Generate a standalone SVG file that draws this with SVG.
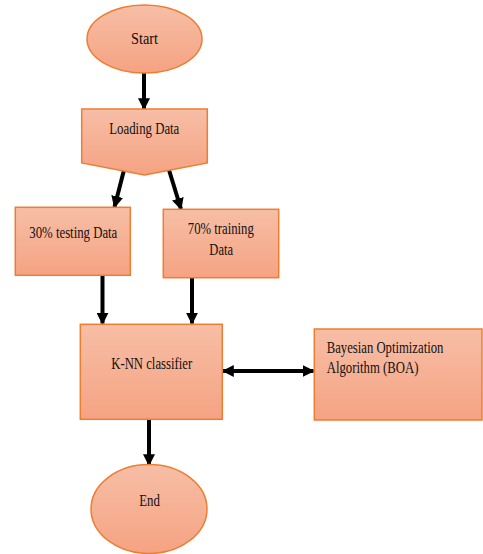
<svg xmlns="http://www.w3.org/2000/svg" width="483" height="554" viewBox="0 0 483 554">
<defs>
<linearGradient id="g" x1="0" y1="0" x2="0" y2="1">
<stop offset="0" stop-color="#f7bea6"/>
<stop offset="1" stop-color="#f5a382"/>
</linearGradient>
<marker id="ah" viewBox="0 0 10 10" refX="9" refY="5" markerWidth="3" markerHeight="3" orient="auto-start-reverse" markerUnits="strokeWidth">
<path d="M0,0 L10,5 L0,10 z" fill="#000"/>
</marker>
</defs>
<style>
.n{fill:url(#g);stroke:#ed7d31;stroke-width:1.5}
.t{font-family:"Liberation Serif","Times New Roman",serif;font-size:17px;fill:#111}
.c{text-anchor:middle}
.e{stroke:#000;stroke-width:4;fill:none;marker-end:url(#ah)}
</style>
<rect width="483" height="554" fill="#fff"/>
<g id="connectors">
<line class="e" x1="144" y1="73" x2="144" y2="109"/>
<line class="e" x1="124" y1="170" x2="114.5" y2="207"/>
<line class="e" x1="169" y1="170" x2="181" y2="209"/>
<line class="e" x1="102.5" y1="276" x2="102.5" y2="323.5"/>
<line class="e" x1="192" y1="278" x2="192" y2="323.5"/>
<line class="e" x1="149" y1="420" x2="149" y2="465"/>
<line class="e" x1="223" y1="371" x2="313.5" y2="371" style="marker-start:url(#ah)"/>
</g>
<g id="start">
<ellipse class="n" cx="144.5" cy="39" rx="57.5" ry="34"/>
<text class="t c" x="144.5" y="43.5" textLength="27" lengthAdjust="spacingAndGlyphs">Start</text>
</g>
<g id="loading">
<path class="n" d="M81.7,109 H207.3 V163 L144.5,175 L81.7,163 Z"/>
<text class="t c" x="144.3" y="134" textLength="70" lengthAdjust="spacingAndGlyphs">Loading Data</text>
</g>
<g id="testing">
<rect class="n" x="15.3" y="207.3" width="115" height="68"/>
<text class="t c" x="73.3" y="238" textLength="88" lengthAdjust="spacingAndGlyphs">30% testing Data</text>
</g>
<g id="training">
<rect class="n" x="163.3" y="209.3" width="115.4" height="68.4"/>
<text class="t c" x="220.8" y="234.3" textLength="66" lengthAdjust="spacingAndGlyphs">70% training</text>
<text class="t c" x="221.2" y="255" textLength="23.7" lengthAdjust="spacingAndGlyphs">Data</text>
</g>
<g id="knn">
<rect class="n" x="80.3" y="324.3" width="142" height="95"/>
<text class="t c" x="151.7" y="369" textLength="81" lengthAdjust="spacingAndGlyphs">K-NN classifier</text>
</g>
<g id="boa">
<rect class="n" x="314.3" y="329" width="167.7" height="91"/>
<text class="t" x="326.7" y="352.7" textLength="116.7" lengthAdjust="spacingAndGlyphs">Bayesian Optimization</text>
<text class="t" x="326.7" y="372.7" textLength="91.7" lengthAdjust="spacingAndGlyphs">Algorithm (BOA)</text>
</g>
<g id="end">
<ellipse class="n" cx="149" cy="509" rx="58" ry="44.5"/>
<text class="t c" x="149.6" y="505.7" textLength="20.7" lengthAdjust="spacingAndGlyphs">End</text>
</g>
</svg>
